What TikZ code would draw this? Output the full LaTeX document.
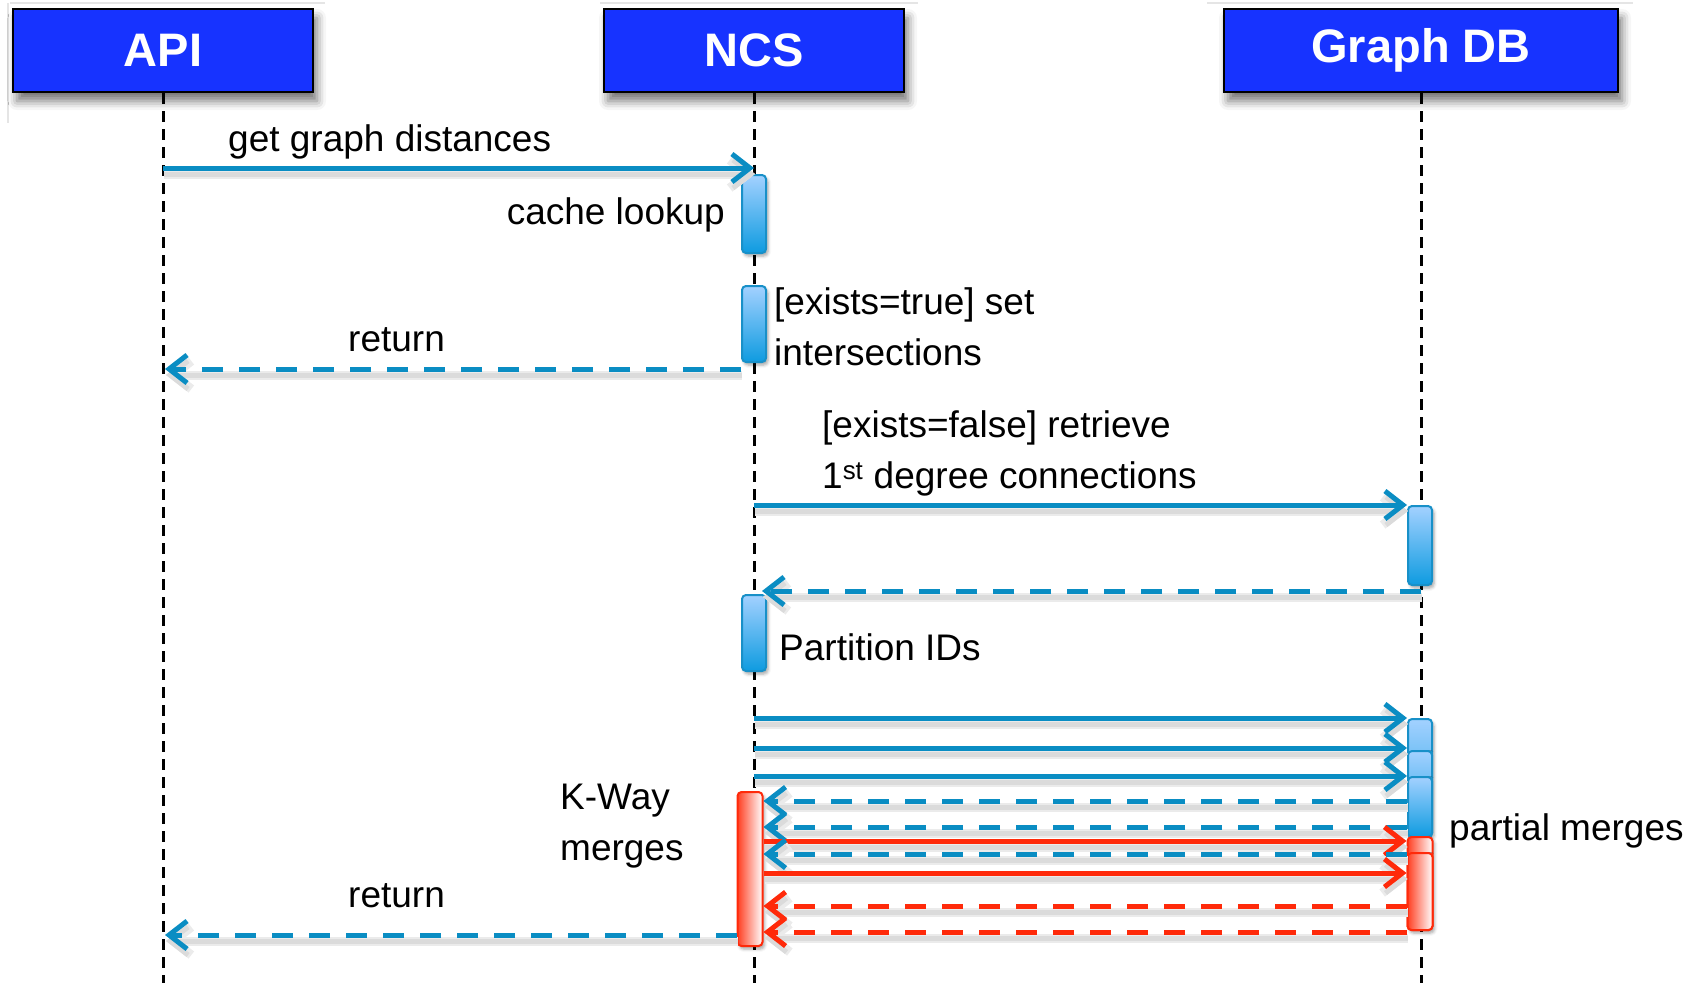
\documentclass[tikz,border=0pt]{standalone}
\usepackage{fontspec}
\setmainfont{Liberation Sans}
\usetikzlibrary{arrows.meta,shadows.blur}

\definecolor{hdrblue}{HTML}{1733FF}
\definecolor{msgblue}{HTML}{0A8DC3}
\definecolor{msgred}{HTML}{FF2A0A}
\definecolor{acttop}{HTML}{A3D1FF}
\definecolor{actbot}{HTML}{0E9BE0}
\definecolor{actedge}{HTML}{1890C8}

\tikzset{
  header/.style={draw=black, line width=2.5pt, fill=hdrblue, text=white,
    font=\bfseries\fontsize{47}{55}\selectfont, minimum height=83pt, inner sep=0pt,
    blur shadow={shadow xshift=4pt, shadow yshift=-9pt, shadow blur radius=9pt, shadow opacity=55}},
  lifeline/.style={draw=black, line width=3pt, dash pattern=on 11pt off 7pt},
  actbox/.style={draw=actedge, line width=2pt, rounded corners=4pt,
    top color=acttop, bottom color=actbot, minimum width=24pt, inner sep=0pt,
    blur shadow={shadow xshift=2pt, shadow yshift=-3pt, shadow blur radius=3pt, shadow opacity=35}},
  redbox/.style={draw=msgred, line width=2pt, rounded corners=4pt,
    left color=msgred!90, right color=white, minimum width=25pt, inner sep=0pt,
    blur shadow={shadow xshift=2pt, shadow yshift=-3pt, shadow blur radius=3pt, shadow opacity=35}},
  msgshadow/.style={
    preaction={draw=black!8, line width=9pt, transform canvas={xshift=1pt, yshift=-6pt}},
    preaction={draw=black!14, line width=5pt, transform canvas={xshift=1pt, yshift=-6pt}}},
  msg/.style={draw=msgblue, line width=5pt, -{Straight Barb[length=18pt, width=28pt]}, msgshadow},
  ret/.style={msg, dash pattern=on 21pt off 16pt},
  rmsg/.style={msg, draw=msgred},
  rret/.style={ret, draw=msgred},
  lbl/.style={font=\fontsize{37}{51}\selectfont, inner sep=0pt, align=left},
  frameline/.style={draw=black!10, line width=1.5pt}
}

\begin{document}
\begin{tikzpicture}[x=1pt, y=-1pt]
  \useasboundingbox (0,0) rectangle (1704,983);

  % faint frame edges above the heads
  \draw[frameline] (10,3) -- (325,3);
  \draw[frameline] (8,3) -- (8,123);
  \draw[frameline] (600,3) -- (918,3);
  \draw[frameline] (1207,3) -- (1633,3);

  % participants
  \node[header, minimum width=300pt] (api) at (163,50.5) {API};
  \node[header, minimum width=300pt] (ncs) at (754,50.5) {NCS};
  \node[header, minimum width=394pt] (gdb) at (1421,50.5) {Graph DB};

  % lifelines
  \coordinate (apiend) at (api |- 0,983);
  \coordinate (ncsend) at (ncs |- 0,983);
  \coordinate (gdbend) at (gdb |- 0,983);
  \draw[lifeline] (api.south) -- (apiend);
  \draw[lifeline] (ncs.south) -- (ncsend);
  \draw[lifeline] (gdb.south) -- (gdbend);

  % activations on NCS
  \node[actbox, anchor=north, minimum height=78pt] (act1) at (754,174) {};
  \node[actbox, anchor=north, minimum height=76pt] (act2) at (754,285) {};
  \node[actbox, anchor=north, minimum height=76pt] (act4) at (754,594) {};
  \node[redbox, anchor=north, minimum height=154pt] (kway) at (750,791) {};

  % activations on Graph DB
  \node[actbox, anchor=north, minimum height=79pt] (act3) at (1420,505) {};
  \node[actbox, anchor=north, minimum height=118pt] (g1) at (1420,718) {};
  \node[actbox, anchor=north, minimum height=86pt, blur shadow={shadow opacity=0}] (g2) at (1420,750) {};
  \node[actbox, anchor=north, minimum height=60pt, blur shadow={shadow opacity=0}] (g3) at (1420,776) {};
  \node[redbox, anchor=north, minimum height=93pt] (r1) at (1420,836) {};
  \node[redbox, anchor=north, minimum height=77pt, blur shadow={shadow opacity=0}] (r2) at (1420,852) {};

  % messages
  \draw[msg] (api |- 0,168) -- (ncs |- 0,168);
  \node[lbl, anchor=west] (l1) at (228,142) {get graph distances};
  \node[lbl, anchor=east] (l2) at (725,215) {cache lookup};

  \node[lbl, anchor=west] (l3) at (774,327) {[exists=true] set\\intersections};
  \draw[ret] (act2.west |- 0,369) -- ([xshift=2pt]api |- 0,369);
  \node[lbl, anchor=west] (l4) at (348,340) {return};

  \node[lbl, anchor=west] (l5) at (822,453) {[exists=false] retrieve\\1\textsuperscript{st} degree connections};
  \draw[msg] (ncs |- 0,505) -- (act3.west |- 0,505);
  \draw[ret] (gdb |- 0,591) -- ([xshift=-5pt]act4.east |- 0,591);
  \node[lbl, anchor=west] (l6) at (779,647) {Partition IDs};

  \draw[msg] (ncs |- 0,718) -- (g1.west |- 0,718);
  \draw[msg] (ncs |- 0,748) -- (g2.west |- 0,748);
  \draw[msg] (ncs |- 0,776) -- (g3.west |- 0,776);
  \draw[ret] (g3.west |- 0,801) -- (kway.east |- 0,801);
  \draw[ret] (g3.west |- 0,827) -- (kway.east |- 0,827);
  \draw[rmsg] (kway.east |- 0,841) -- (r1.west |- 0,841);
  \draw[ret] (r1.west |- 0,854) -- (kway.east |- 0,854);
  \draw[rmsg] (kway.east |- 0,873) -- (r2.west |- 0,873);
  \draw[rret] (r2.west |- 0,906) -- (kway.east |- 0,906);
  \draw[rret] (r2.west |- 0,932) -- (kway.east |- 0,932);
  \draw[ret] (kway.west |- 0,935) -- ([xshift=2pt]api |- 0,935);

  \node[lbl, anchor=west] (l7) at (560,826) {K-Way\\merges};
  \node[lbl, anchor=west] (l8) at (348,896) {return};
  \node[lbl, anchor=west] (l9) at (1449,831) {partial merges};
\end{tikzpicture}
\end{document}
